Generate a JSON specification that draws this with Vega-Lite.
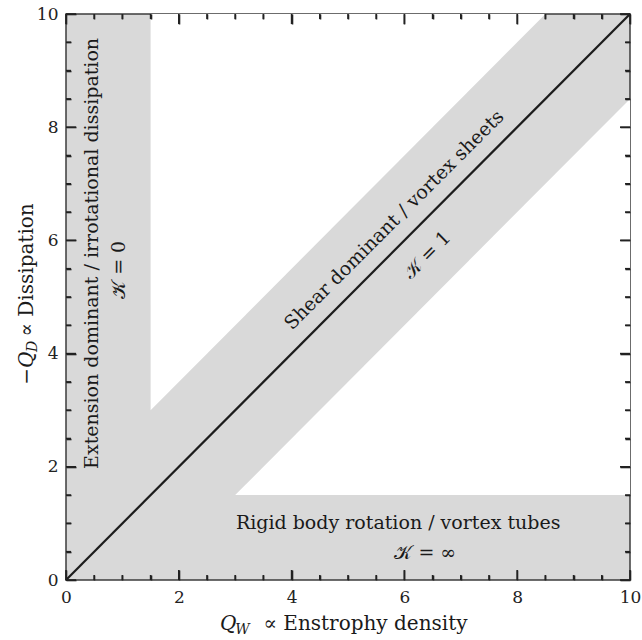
{
  "$schema": "https://vega.github.io/schema/vega-lite/v6.json",
  "width": 564,
  "height": 566,
  "autosize": {"type": "none"},
  "padding": {"left": 66, "top": 14, "right": 12, "bottom": 60},
  "background": "white",
  "config": {
    "view": {"fill": "#d9d9d9", "stroke": "#3c3c3c", "strokeWidth": 1.5},
    "axis": {"domain": false, "grid": false, "labelFlush": false, "format": "d", "labelFont": "DejaVu Serif", "labelFontSize": 17, "labelColor": "#222222", "tickColor": "#222222", "tickWidth": 1.6, "tickOpacity": 1},
    "text": {"font": "DejaVu Serif", "fontSize": 19, "color": "#1a1a1a"},
    "point": {"filled": false, "size": 100, "stroke": "#222222", "strokeWidth": 1.6, "opacity": 1}
  },
  "datasets": {
    "upper": [{"x": 1.5, "y": 3, "y2": 10}, {"x": 8.5, "y": 10, "y2": 10}],
    "lower": [{"x": 3, "y": 1.5, "y2": 1.5}, {"x": 10, "y": 1.5, "y2": 8.5}],
    "diag": [{"x": 0, "y": 0}, {"x": 10, "y": 10}],
    "major": [{"v": 0}, {"v": 2}, {"v": 4}, {"v": 6}, {"v": 8}, {"v": 10}],
    "minor": [{"v": 0.5}, {"v": 1}, {"v": 1.5}, {"v": 2.5}, {"v": 3}, {"v": 3.5}, {"v": 4.5}, {"v": 5}, {"v": 5.5}, {"v": 6.5}, {"v": 7}, {"v": 7.5}, {"v": 8.5}, {"v": 9}, {"v": 9.5}],
    "labels": [
      {"kind": "h", "x": 5.89, "y": 1.01, "text": "Rigid body rotation / vortex tubes"},
      {"kind": "h", "x": 6.37, "y": 0.48, "text": "𝒦 = ∞"},
      {"kind": "v", "x": 0.46, "y": 5.77, "text": "Extension dominant / irrotational dissipation"},
      {"kind": "v", "x": 0.94, "y": 5.48, "text": "𝒦 = 0"},
      {"kind": "d", "x": 5.82, "y": 6.36, "text": "Shear dominant / vortex sheets"},
      {"kind": "d", "x": 6.40, "y": 5.74, "text": "𝒦 = 1"},
      {"kind": "xi", "x": 2.73, "y": -0.883, "text": "Q"},
      {"kind": "xs", "x": 3.0, "y": -0.95, "text": "W"},
      {"kind": "xr", "x": 3.5, "y": -0.883, "text": "∝ Enstrophy density"},
      {"kind": "yi", "x": -0.585, "y": 3.45, "text": "−Q"},
      {"kind": "ys", "x": -0.51, "y": 4.03, "text": "D"},
      {"kind": "yr", "x": -0.585, "y": 4.3, "text": "∝ Dissipation"}
    ]
  },
  "resolve": {"axis": {"x": "independent", "y": "independent"}},
  "layer": [
    {
      "data": {"name": "upper"},
      "mark": {"type": "area", "color": "white", "orient": "vertical"},
      "encoding": {
        "x": {"field": "x", "type": "quantitative", "scale": {"domain": [0, 10], "nice": false}, "axis": {"orient": "bottom", "title": null, "values": [0, 2, 4, 6, 8, 10], "ticks": true, "tickSize": 10, "offset": -10, "labelPadding": 9, "zindex": 2}},
        "y": {"field": "y", "type": "quantitative", "scale": {"domain": [0, 10], "nice": false}, "axis": {"orient": "left", "title": null, "values": [0, 2, 4, 6, 8, 10], "ticks": true, "tickSize": 10, "offset": -10, "labelPadding": 8, "zindex": 2}},
        "y2": {"field": "y2"}
      }
    },
    {
      "data": {"name": "lower"},
      "mark": {"type": "area", "color": "white", "orient": "vertical"},
      "encoding": {
        "x": {"field": "x", "type": "quantitative", "axis": {"orient": "top", "title": null, "values": [0, 2, 4, 6, 8, 10], "ticks": true, "labels": false, "tickSize": 10, "offset": -10, "zindex": 2}},
        "y": {"field": "y", "type": "quantitative", "axis": {"orient": "right", "title": null, "values": [0, 2, 4, 6, 8, 10], "ticks": true, "labels": false, "tickSize": 10, "offset": -10, "zindex": 2}},
        "y2": {"field": "y2"}
      }
    },
    {
      "data": {"name": "diag"},
      "mark": {"type": "line", "color": "#1c1c1c", "strokeWidth": 2.2},
      "encoding": {
        "x": {"field": "x", "type": "quantitative", "axis": {"orient": "bottom", "title": null, "values": [0.5, 1, 1.5, 2.5, 3, 3.5, 4.5, 5, 5.5, 6.5, 7, 7.5, 8.5, 9, 9.5], "ticks": true, "labels": false, "tickSize": 5, "offset": -5, "zindex": 2}},
        "y": {"field": "y", "type": "quantitative", "axis": {"orient": "left", "title": null, "values": [0.5, 1, 1.5, 2.5, 3, 3.5, 4.5, 5, 5.5, 6.5, 7, 7.5, 8.5, 9, 9.5], "ticks": true, "labels": false, "tickSize": 5, "offset": -5, "zindex": 2}}
      }
    },
    {
      "data": {"name": "major"},
      "mark": {"type": "point", "shape": "M0,0V-2"},
      "encoding": {"x": {"field": "v", "type": "quantitative", "axis": {"orient": "top", "title": null, "values": [0.5, 1, 1.5, 2.5, 3, 3.5, 4.5, 5, 5.5, 6.5, 7, 7.5, 8.5, 9, 9.5], "ticks": true, "labels": false, "tickSize": 5, "offset": -5, "zindex": 2}}, "y": {"datum": 0, "type": "quantitative", "axis": {"orient": "right", "title": null, "values": [0.5, 1, 1.5, 2.5, 3, 3.5, 4.5, 5, 5.5, 6.5, 7, 7.5, 8.5, 9, 9.5], "ticks": true, "labels": false, "tickSize": 5, "offset": -5, "zindex": 2}}}
    },
    {
      "data": {"name": "major"},
      "mark": {"type": "point", "shape": "M0,0V2"},
      "encoding": {"x": {"field": "v", "type": "quantitative", "axis": null}, "y": {"datum": 10, "type": "quantitative", "axis": null}}
    },
    {
      "data": {"name": "major"},
      "mark": {"type": "point", "shape": "M0,0H2"},
      "encoding": {"y": {"field": "v", "type": "quantitative", "axis": null}, "x": {"datum": 0, "type": "quantitative", "axis": null}}
    },
    {
      "data": {"name": "major"},
      "mark": {"type": "point", "shape": "M0,0H-2"},
      "encoding": {"y": {"field": "v", "type": "quantitative", "axis": null}, "x": {"datum": 10, "type": "quantitative", "axis": null}}
    },
    {
      "data": {"name": "minor"},
      "mark": {"type": "point", "shape": "M0,0V-1"},
      "encoding": {"x": {"field": "v", "type": "quantitative", "axis": null}, "y": {"datum": 0, "type": "quantitative", "axis": null}}
    },
    {
      "data": {"name": "minor"},
      "mark": {"type": "point", "shape": "M0,0V1"},
      "encoding": {"x": {"field": "v", "type": "quantitative", "axis": null}, "y": {"datum": 10, "type": "quantitative", "axis": null}}
    },
    {
      "data": {"name": "minor"},
      "mark": {"type": "point", "shape": "M0,0H1"},
      "encoding": {"y": {"field": "v", "type": "quantitative", "axis": null}, "x": {"datum": 0, "type": "quantitative", "axis": null}}
    },
    {
      "data": {"name": "minor"},
      "mark": {"type": "point", "shape": "M0,0H-1"},
      "encoding": {"y": {"field": "v", "type": "quantitative", "axis": null}, "x": {"datum": 10, "type": "quantitative", "axis": null}}
    },
    {
      "data": {"name": "labels"},
      "transform": [{"filter": "datum.kind == 'h'"}],
      "mark": {"type": "text", "align": "center", "baseline": "middle"},
      "encoding": {"x": {"field": "x", "type": "quantitative", "axis": null}, "y": {"field": "y", "type": "quantitative", "axis": null}, "text": {"field": "text"}}
    },
    {
      "data": {"name": "labels"},
      "transform": [{"filter": "datum.kind == 'v'"}],
      "mark": {"type": "text", "align": "center", "baseline": "middle", "angle": 270},
      "encoding": {"x": {"field": "x", "type": "quantitative", "axis": null}, "y": {"field": "y", "type": "quantitative", "axis": null}, "text": {"field": "text"}}
    },
    {
      "data": {"name": "labels"},
      "transform": [{"filter": "datum.kind == 'd'"}],
      "mark": {"type": "text", "align": "center", "baseline": "middle", "angle": 315},
      "encoding": {"x": {"field": "x", "type": "quantitative", "axis": null}, "y": {"field": "y", "type": "quantitative", "axis": null}, "text": {"field": "text"}}
    },
    {
      "data": {"name": "labels"},
      "transform": [{"filter": "datum.kind == 'xi'"}],
      "mark": {"type": "text", "align": "left", "baseline": "alphabetic", "fontStyle": "italic", "fontSize": 20},
      "encoding": {"x": {"field": "x", "type": "quantitative", "axis": null}, "y": {"field": "y", "type": "quantitative", "axis": null}, "text": {"field": "text"}}
    },
    {
      "data": {"name": "labels"},
      "transform": [{"filter": "datum.kind == 'xs'"}],
      "mark": {"type": "text", "align": "left", "baseline": "alphabetic", "fontStyle": "italic", "fontSize": 14},
      "encoding": {"x": {"field": "x", "type": "quantitative", "axis": null}, "y": {"field": "y", "type": "quantitative", "axis": null}, "text": {"field": "text"}}
    },
    {
      "data": {"name": "labels"},
      "transform": [{"filter": "datum.kind == 'xr'"}],
      "mark": {"type": "text", "align": "left", "baseline": "alphabetic", "fontSize": 20},
      "encoding": {"x": {"field": "x", "type": "quantitative", "axis": null}, "y": {"field": "y", "type": "quantitative", "axis": null}, "text": {"field": "text"}}
    },
    {
      "data": {"name": "labels"},
      "transform": [{"filter": "datum.kind == 'yi'"}],
      "mark": {"type": "text", "align": "left", "baseline": "alphabetic", "fontStyle": "italic", "fontSize": 20, "angle": 270},
      "encoding": {"x": {"field": "x", "type": "quantitative", "axis": null}, "y": {"field": "y", "type": "quantitative", "axis": null}, "text": {"field": "text"}}
    },
    {
      "data": {"name": "labels"},
      "transform": [{"filter": "datum.kind == 'ys'"}],
      "mark": {"type": "text", "align": "left", "baseline": "alphabetic", "fontStyle": "italic", "fontSize": 14, "angle": 270},
      "encoding": {"x": {"field": "x", "type": "quantitative", "axis": null}, "y": {"field": "y", "type": "quantitative", "axis": null}, "text": {"field": "text"}}
    },
    {
      "data": {"name": "labels"},
      "transform": [{"filter": "datum.kind == 'yr'"}],
      "mark": {"type": "text", "align": "left", "baseline": "alphabetic", "fontSize": 20, "angle": 270},
      "encoding": {"x": {"field": "x", "type": "quantitative", "axis": null}, "y": {"field": "y", "type": "quantitative", "axis": null}, "text": {"field": "text"}}
    }
  ]
}
